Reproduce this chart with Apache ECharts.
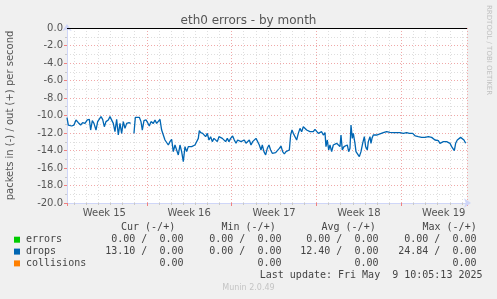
<!DOCTYPE html>
<html><head><meta charset="utf-8">
<script src="https://cdn.jsdelivr.net/npm/echarts/dist/echarts.min.js"></script>
<style>html,body{margin:0;padding:0;background:#f0f0f0;}#c{width:497px;height:299px;}</style>
</head><body><div id="c"></div>
<script>
const titleText = 'eth0 errors - by month';
const yAxisName = 'packets in (-) / out (+) per second';
const sideText = 'RRDTOOL / TOBI OETIKER';
const footerText = 'Munin 2.0.49';
const lastUpdate = 'Last update: Fri May  9 10:05:13 2025';
const weekLabels = ['Week 15', 'Week 16', 'Week 17', 'Week 18', 'Week 19'];
const rangeDays = 33;              // munin "by month" = 33 days
const startDay = 0.4203;           // start time-of-day (10:05:13) in days, from Sunday 6 Apr 00:00
const yTicks = { min: -20, max: 0, step: 2 };

// drops, "in" direction (plotted negative), [hours since start, value]
const drops = [
[0,-10.25],[2.6,-11.09],[9.2,-11.2],[13.8,-11.09],[17.8,-10.51],[22.4,-10.82],[27,-11.09],[31,-10.82],
[35.6,-10.9],[40.2,-10.51],[44.2,-10.44],[46.8,-11.66],[50.1,-10.59],[53.4,-10.9],[57.4,-11.66],[60.7,-10.7],
[64,-10.51],[67.3,-10.13],[70.6,-10.44],[73.9,-11.28],[77.2,-10.7],[81.8,-10.51],[85.1,-10.13],[88.4,-9.94],
[91.7,-10.9],[95,-11.85],[98.3,-10.44],[101.6,-12.23],[104.9,-10.9],[108.2,-12.04],[111.5,-10.7],[114.8,-11.47],
[118.1,-10.9],[122.7,-10.82],[126,-10.9],[129.5,null],[132.6,-12.04],[135.3,-10.21],[139.2,-10.13],[143.2,-10.21],
[146.5,-10.7],[149.1,-11.66],[152.4,-10.59],[156.4,-10.51],[159.7,-10.82],[163,-11.2],[166.3,-10.7],[170.9,-10.9],
[174.2,-10.51],[177.5,-10.9],[180.8,-10.7],[184.1,-10.44],[187.4,-11.66],[190.7,-11.85],[194,-12.8],[197.3,-12.61],
[200.6,-13.37],[203.9,-12.99],[207.2,-12.72],[210.5,-14.13],[213.8,-13.37],[217.1,-13.56],[220.4,-14.51],[223.7,-13.37],
[227,-14.13],[230.3,-15.28],[233.6,-13.56],[236.9,-14.13],[240.2,-13.56],[243.5,-13.75],[246.8,-13.56],[250.1,-13.75],
[253.4,-13.37],[256.7,-13.18],[260,-12.61],[262,-11.73],[264.6,-11.96],[268.6,-12.04],[271.2,-12.23],[274.5,-12.42],
[277.8,-12.04],[281.1,-12.8],[284.4,-12.42],[287.7,-12.99],[291,-12.61],[294.3,-12.8],[297.6,-12.99],[300.9,-12.42],
[304.2,-12.23],[307.5,-12.61],[310.8,-12.8],[314.1,-12.99],[317.4,-12.61],[320.7,-12.99],[324,-12.61],[328,-12.34],
[331.3,-12.8],[334.6,-13.18],[337.9,-12.8],[341.2,-12.61],[344.5,-12.99],[347.8,-13.18],[351.1,-12.8],[354.4,-13.18],
[357.7,-12.99],[361,-12.8],[364.3,-13.37],[367.6,-12.99],[370.9,-12.8],[374.2,-12.61],[377.5,-12.42],[380.8,-13.37],
[384.1,-13.94],[386.7,-13.37],[390,-14.13],[393.3,-14.51],[396.6,-13.75],[399.9,-13.37],[403.2,-13.94],[406.5,-14.32],
[409.8,-14.51],[413.1,-14.25],[416.4,-14.13],[420.4,-13.75],[423.7,-13.49],[427,-14.13],[430.3,-14.4],[433.6,-14.13],
[436.9,-14.02],[440.2,-13.94],[442.8,-12.23],[445.5,-11.66],[448.1,-12.04],[451.4,-12.23],[454.7,-12.8],[458,-12.04],
[461.3,-11.47],[464.6,-11.85],[467.9,-11.28],[471.2,-11.28],[474.5,-11.66],[477.8,-11.47],[481.1,-11.85],[484.4,-11.66],
[487.7,-11.85],[491,-11.58],[494.3,-11.47],[497.6,-12.04],[500.9,-11.96],[504.2,-11.85],[507.5,-12.23],[510.8,-11.96],
[512.8,-13.56],[515.4,-12.8],[518.1,-13.94],[520.7,-13.37],[524,-14.13],[527.3,-13.37],[530.6,-13.18],[533.9,-13.18],
[537.2,-13.37],[540.5,-13.56],[542.5,-12.23],[545.1,-13.94],[548.4,-13.56],[551.7,-13.75],[555,-13.37],[557.7,-14.13],
[560.3,-13.75],[562.3,-11.09],[564.9,-12.61],[566.9,-12.04],[570.2,-13.18],[572.2,-14.13],[575.5,-14.32],[578.8,-14.7],
[582.1,-14.13],[585.4,-13.18],[588.7,-12.42],[591.3,-13.56],[594.6,-13.94],[596.6,-12.99],[599.9,-12.42],[601.9,-13.18],
[603.9,-12.61],[606.5,-12.23],[609.8,-12.11],[613.1,-12.23],[616.4,-12.23],[619.7,-12.11],[623,-12.23],[626.3,-11.96],
[629.6,-11.85],[632.9,-11.85],[636.2,-11.96],[639.5,-11.92],[646.1,-11.96],[652.7,-11.96],[659.3,-11.96],[665.9,-12.04],
[672.5,-11.96],[677.8,-12.04],[680.4,-11.85],[684.4,-12.04],[687,-11.96],[689.7,-12.34],[692.3,-12.23],[695.6,-12.42],
[698.9,-12.34],[702.2,-12.5],[705.5,-12.34],[708.8,-12.5],[712.1,-12.61],[715.4,-12.42],[718.7,-12.5],[722,-12.5],
[725.3,-12.72],[728.6,-12.8],[731.9,-12.99],[735.2,-12.88],[738.5,-13.18],[741.8,-13.1],[745.1,-12.99],[748.4,-12.8],
[751.7,-12.99],[755,-12.88],[758.3,-13.18],[761.6,-13.56],[764.9,-13.37],[766.9,-14.02],[769.5,-13.18],[772.8,-12.8],
[776.1,-12.61],[779.4,-12.5],[782.7,-12.72],[786,-12.8],[789.3,-13.18]
];

const legendNames = ['errors', 'drops', 'collisions'];
const legendColors = ['#00cc00', '#0066b3', '#ff8000'];
const colHeaders = ['Cur (-/+)', 'Min (-/+)', 'Avg (-/+)', 'Max (-/+)'];
const curVals = ['0.00 /  0.00', '13.10 /  0.00', '0.00'];
const minVals = ['0.00 /  0.00', '0.00 /  0.00', '0.00'];
const avgVals = ['0.00 /  0.00', '12.40 /  0.00', '0.00'];
const maxVals = ['0.00 /  0.00', '24.84 /  0.00', '0.00'];

const MONO = '10px "DejaVu Sans Mono", monospace';
const SANS = '"DejaVu Sans", sans-serif';
const txtColor = '#444';
const colRight = [183.5, 281.5, 378.5, 476.5];
const colHeadLeft = [121, 221.5, 321.5, 422.5];
const rowY = [239.7, 251.6, 263.4];

const graphics = [];
colHeaders.forEach((h, i) => graphics.push({type:'text', x: colHeadLeft[i], y: 227.4,
  style:{text:h, font:MONO, fill:txtColor, textAlign:'left', textVerticalAlign:'middle'}}));
legendNames.forEach((n, r) => {
  graphics.push({type:'rect', shape:{x:14, y:rowY[r]-3, width:6, height:6}, style:{fill:legendColors[r]}});
  graphics.push({type:'text', x:26, y:rowY[r], style:{text:n, font:MONO, fill:txtColor, textAlign:'left', textVerticalAlign:'middle'}});
  [curVals, minVals, avgVals, maxVals].forEach((arr, c) => graphics.push({type:'text', x:colRight[c], y:rowY[r],
    style:{text:arr[r], font:MONO, fill:txtColor, textAlign:'right', textVerticalAlign:'middle'}}));
});
graphics.push({type:'text', x:482.5, y:275.7, style:{text:lastUpdate, font:MONO, fill:txtColor, textAlign:'right', textVerticalAlign:'middle'}});
graphics.push({type:'text', x:248.5, y:288.3, style:{text:footerText, font:'8px ' + SANS, fill:'#c4c4c4', textAlign:'center', textVerticalAlign:'middle'}});
graphics.push({type:'text', x:489, y:5, rotation:-Math.PI/2, style:{text:sideText, font:'7px ' + SANS, fill:'#c0c0c0', textAlign:'left', textVerticalAlign:'middle'}});

const axisCol = '#cfd6f8';
const minorGrid = {color:'#dedede', type:[1,2], width:1};
const majorGrid = {color:'#f0a8a8', type:[1,2], width:1};
const hidden = {axisLine:{show:false}, axisTick:{show:false}, axisLabel:{show:false}};

const chart = echarts.init(document.getElementById('c'), null, {renderer:'canvas'});
chart.setOption({
  animation:false,
  backgroundColor:'#f0f0f0',
  title:{text:titleText, left:'center', top:10, textStyle:{fontSize:12, fontWeight:'normal', color:'#555', fontFamily:SANS}},
  grid:{left:67, right:30, top:28, bottom:96, show:true, backgroundColor:'#ffffff', borderWidth:0,
    containLabel:false, outerBoundsMode:'none'},
  xAxis:[
    {type:'value', position:'bottom', min:0, max:rangeDays*24, ...hidden, splitLine:{show:false}},
    {type:'value', position:'bottom', min:startDay, max:startDay+rangeDays, splitNumber:33, ...hidden,
      axisTick:{show:true, length:2, inside:false, lineStyle:{color:'#c8c8c8'}},
      splitLine:{show:true, lineStyle:minorGrid}},
    {type:'value', position:'bottom', min:startDay/7, max:(startDay+rangeDays)/7, splitNumber:5, ...hidden,
      axisTick:{show:true, length:3, inside:false, lineStyle:{color:'#f08080'}},
      splitLine:{show:true, lineStyle:majorGrid}},
    {type:'value', position:'bottom', offset:0, min:startDay/7-0.5, max:(startDay+rangeDays)/7-0.5, splitNumber:5,
      axisLine:{show:true, lineStyle:{color:axisCol, width:1}, symbol:['none','arrow'], symbolSize:[7,7], symbolOffset:[0,4]},
      axisTick:{show:false}, splitLine:{show:false},
      axisLabel:{show:true, color:'#555', fontSize:10, fontFamily:SANS, margin:5, showMinLabel:false, showMaxLabel:false,
        formatter:v => { const k = Math.round(v); return Math.abs(v-k) < 1e-6 && weekLabels[k] ? weekLabels[k] : ''; }}}
  ],
  yAxis:{type:'value', min:yTicks.min, max:yTicks.max, interval:yTicks.step,
    name:yAxisName, nameLocation:'middle', nameGap:52, nameTextStyle:{color:'#555', fontSize:10, fontFamily:SANS},
    axisLine:{show:true, lineStyle:{color:axisCol, width:1}, symbol:['none','arrow'], symbolSize:[7,7], symbolOffset:[0,4]},
    axisTick:{show:true, length:3, lineStyle:{color:'#f08080'}},
    axisLabel:{color:'#555', fontSize:10, fontFamily:SANS, margin:4, formatter:v => v.toFixed(1)},
    splitLine:{show:true, lineStyle:majorGrid},
    minorTick:{show:true, splitNumber:2, length:2, lineStyle:{color:'#c8c8c8'}},
    minorSplitLine:{show:true, lineStyle:minorGrid}},
  series:[{
    name:'drops', type:'line', xAxisIndex:0, data:drops, showSymbol:false, connectNulls:false,
    lineStyle:{color:'#0066b3', width:1.3}, itemStyle:{color:'#0066b3'},
    markLine:{silent:true, symbol:'none', label:{show:false}, animation:false,
      lineStyle:{color:'#000000', width:1, type:'solid'}, data:[{yAxis:0}]}
  }],
  graphic:graphics
});
</script></body></html>
